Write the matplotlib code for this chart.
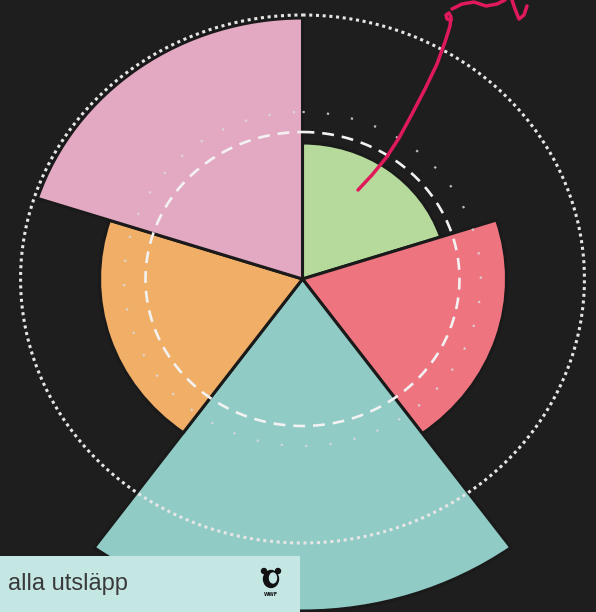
import numpy as np
import matplotlib.pyplot as plt
from matplotlib.patches import Rectangle, Ellipse
from matplotlib.lines import Line2D

# sektorer medurs från toppen
sektorer = ["A", "B", "C", "D", "E"]
radier = [136, 191, 332, 190, 261]
farger = ["#b6da9c", "#ee747f", "#90cbc6", "#f0ae67", "#e4a9c2"]

# referenscirklar
ring_yttre = 264
ring_streckad = 147
ring_prickar = 167

etikett = "alla utsläpp"

bg = "#1e1e1e"
W, H = 596, 612


def fr(x, y):
    # pixel (uppifrån) -> figurkoordinat
    return x / W, 1 - y / H


fig = plt.figure(figsize=(W / 100, H / 100), dpi=100, facecolor=bg)

cx, cy = 302.5, 279
rmax = 345
sx = 1.068
ax = fig.add_axes([(cx - rmax * sx) / W, (H - cy - rmax) / H,
                   2 * rmax * sx / W, 2 * rmax / H], projection="polar")
ax.set_aspect("auto")
ax.set_facecolor(bg)
ax.set_theta_zero_location("N")
ax.set_theta_direction(-1)
ax.set_ylim(0, rmax)
ax.grid(False)
ax.set_xticks([])
ax.set_yticks([])
ax.spines["polar"].set_visible(False)

n = len(radier)
theta = np.deg2rad(np.arange(n) * 360 / n + 180 / n)
ax.bar(theta, radier, width=np.deg2rad(360 / n), color=farger,
       edgecolor="#1a1a1a", linewidth=2.2, zorder=2)

t = np.linspace(0, 2 * np.pi, 600)
ax.plot(t, np.full_like(t, ring_yttre), ls=(0, (1, 1.2)), lw=2.2,
        color="#e6e6e6", zorder=3)
ax.plot(t, np.full_like(t, ring_streckad), ls=(0, (4.5, 3)), lw=1.9,
        color="#f2f2f2", zorder=3)
ax.plot(t, np.full_like(t, ring_prickar), ls=(0, (1, 10)), lw=1.6,
        color="#dcdcdc", alpha=0.85, zorder=3)

# handritad pil
pil = [(358, 190), (372, 175), (386, 158), (399, 138), (412, 114), (425, 89),
       (437, 64), (445, 42), (450, 26), (451, 17), (449, 13), (446, 15),
       (447, 19), (451, 20)]
streck1 = [(452, 9), (462, 4), (474, 2), (486, 6), (497, 4), (505, 0)]
streck2 = [(512, 0), (515, 9), (519, 19), (524, 15), (527, 6)]
for s in (pil, streck1, streck2):
    xs, ys = zip(*[fr(x, y) for x, y in s])
    fig.add_artist(Line2D(xs, ys, color="#e0195a", lw=2.5,
                          solid_capstyle="round", solid_joinstyle="round"))

# etikettruta
fig.add_artist(Rectangle(fr(0, 612), 300 / W, 56 / H, color="#c4e7e4", lw=0))
fig.text(*fr(8, 584), etikett, fontsize=17, color="#3a3a3a",
         family="Liberation Sans", va="center", ha="left")

# liten panda-logga
fig.add_artist(Ellipse(fr(271, 579), 15 / W, 17 / H, color="#111111"))
fig.add_artist(Ellipse(fr(273, 578), 7 / W, 10 / H, color="#c4e7e4"))
fig.add_artist(Ellipse(fr(264, 571), 5 / W, 5 / H, color="#111111"))
fig.add_artist(Ellipse(fr(278, 571), 5 / W, 5 / H, color="#111111"))
fig.text(*fr(271, 595), "WWF", fontsize=3.5, color="#111111",
         weight="bold", ha="center", va="center")

fig.savefig("out.png", dpi=100, facecolor=bg)
